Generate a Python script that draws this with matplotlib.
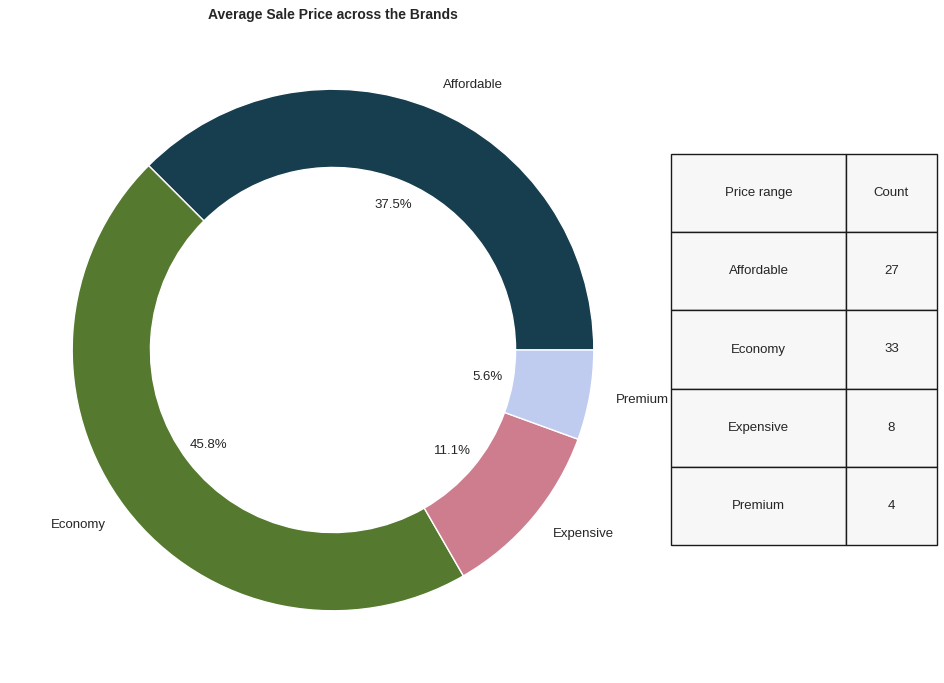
import matplotlib.pyplot as plt

plt.rcParams['font.family'] = ['Liberation Sans', 'DejaVu Sans']

labels = ['Affordable', 'Economy', 'Expensive', 'Premium']
counts = [27, 33, 8, 4]
colors = ['#173e4f', '#557a2f', '#ce7d8f', '#c0cbf0']
col_labels = ['Price range', 'Count']

fig = plt.figure(figsize=(9.44, 6.83), dpi=100)
ax = fig.add_axes([7 / 944, 7 / 683, 652 / 944, 652 / 683])
ax.pie(counts, labels=labels, colors=colors, autopct='%1.1f%%',
       wedgeprops=dict(width=0.3, edgecolor='white', linewidth=1),
       textprops=dict(fontsize=9.5, color='#262626'))
ax.set_title('Average Sale Price across the Brands', fontsize=10,
             fontweight='bold', color='#262626', pad=3.5)

tax = fig.add_axes([671 / 944, 138 / 683, 266 / 944, 391 / 683])
tax.axis('off')
cells = [[l, str(c)] for l, c in zip(labels, counts)]
tbl = tax.table(cellText=cells, colLabels=col_labels, cellLoc='center',
                bbox=[0, 0, 1, 1], colWidths=[175, 91])
tbl.auto_set_font_size(False)
tbl.set_fontsize(9.5)
for (r, c), cell in tbl.get_celld().items():
    cell.set_facecolor('#f7f7f7')
    cell.set_edgecolor('#1a1a1a')
    cell.get_text().set_color('#262626')

fig.savefig('out.png', dpi=100)
